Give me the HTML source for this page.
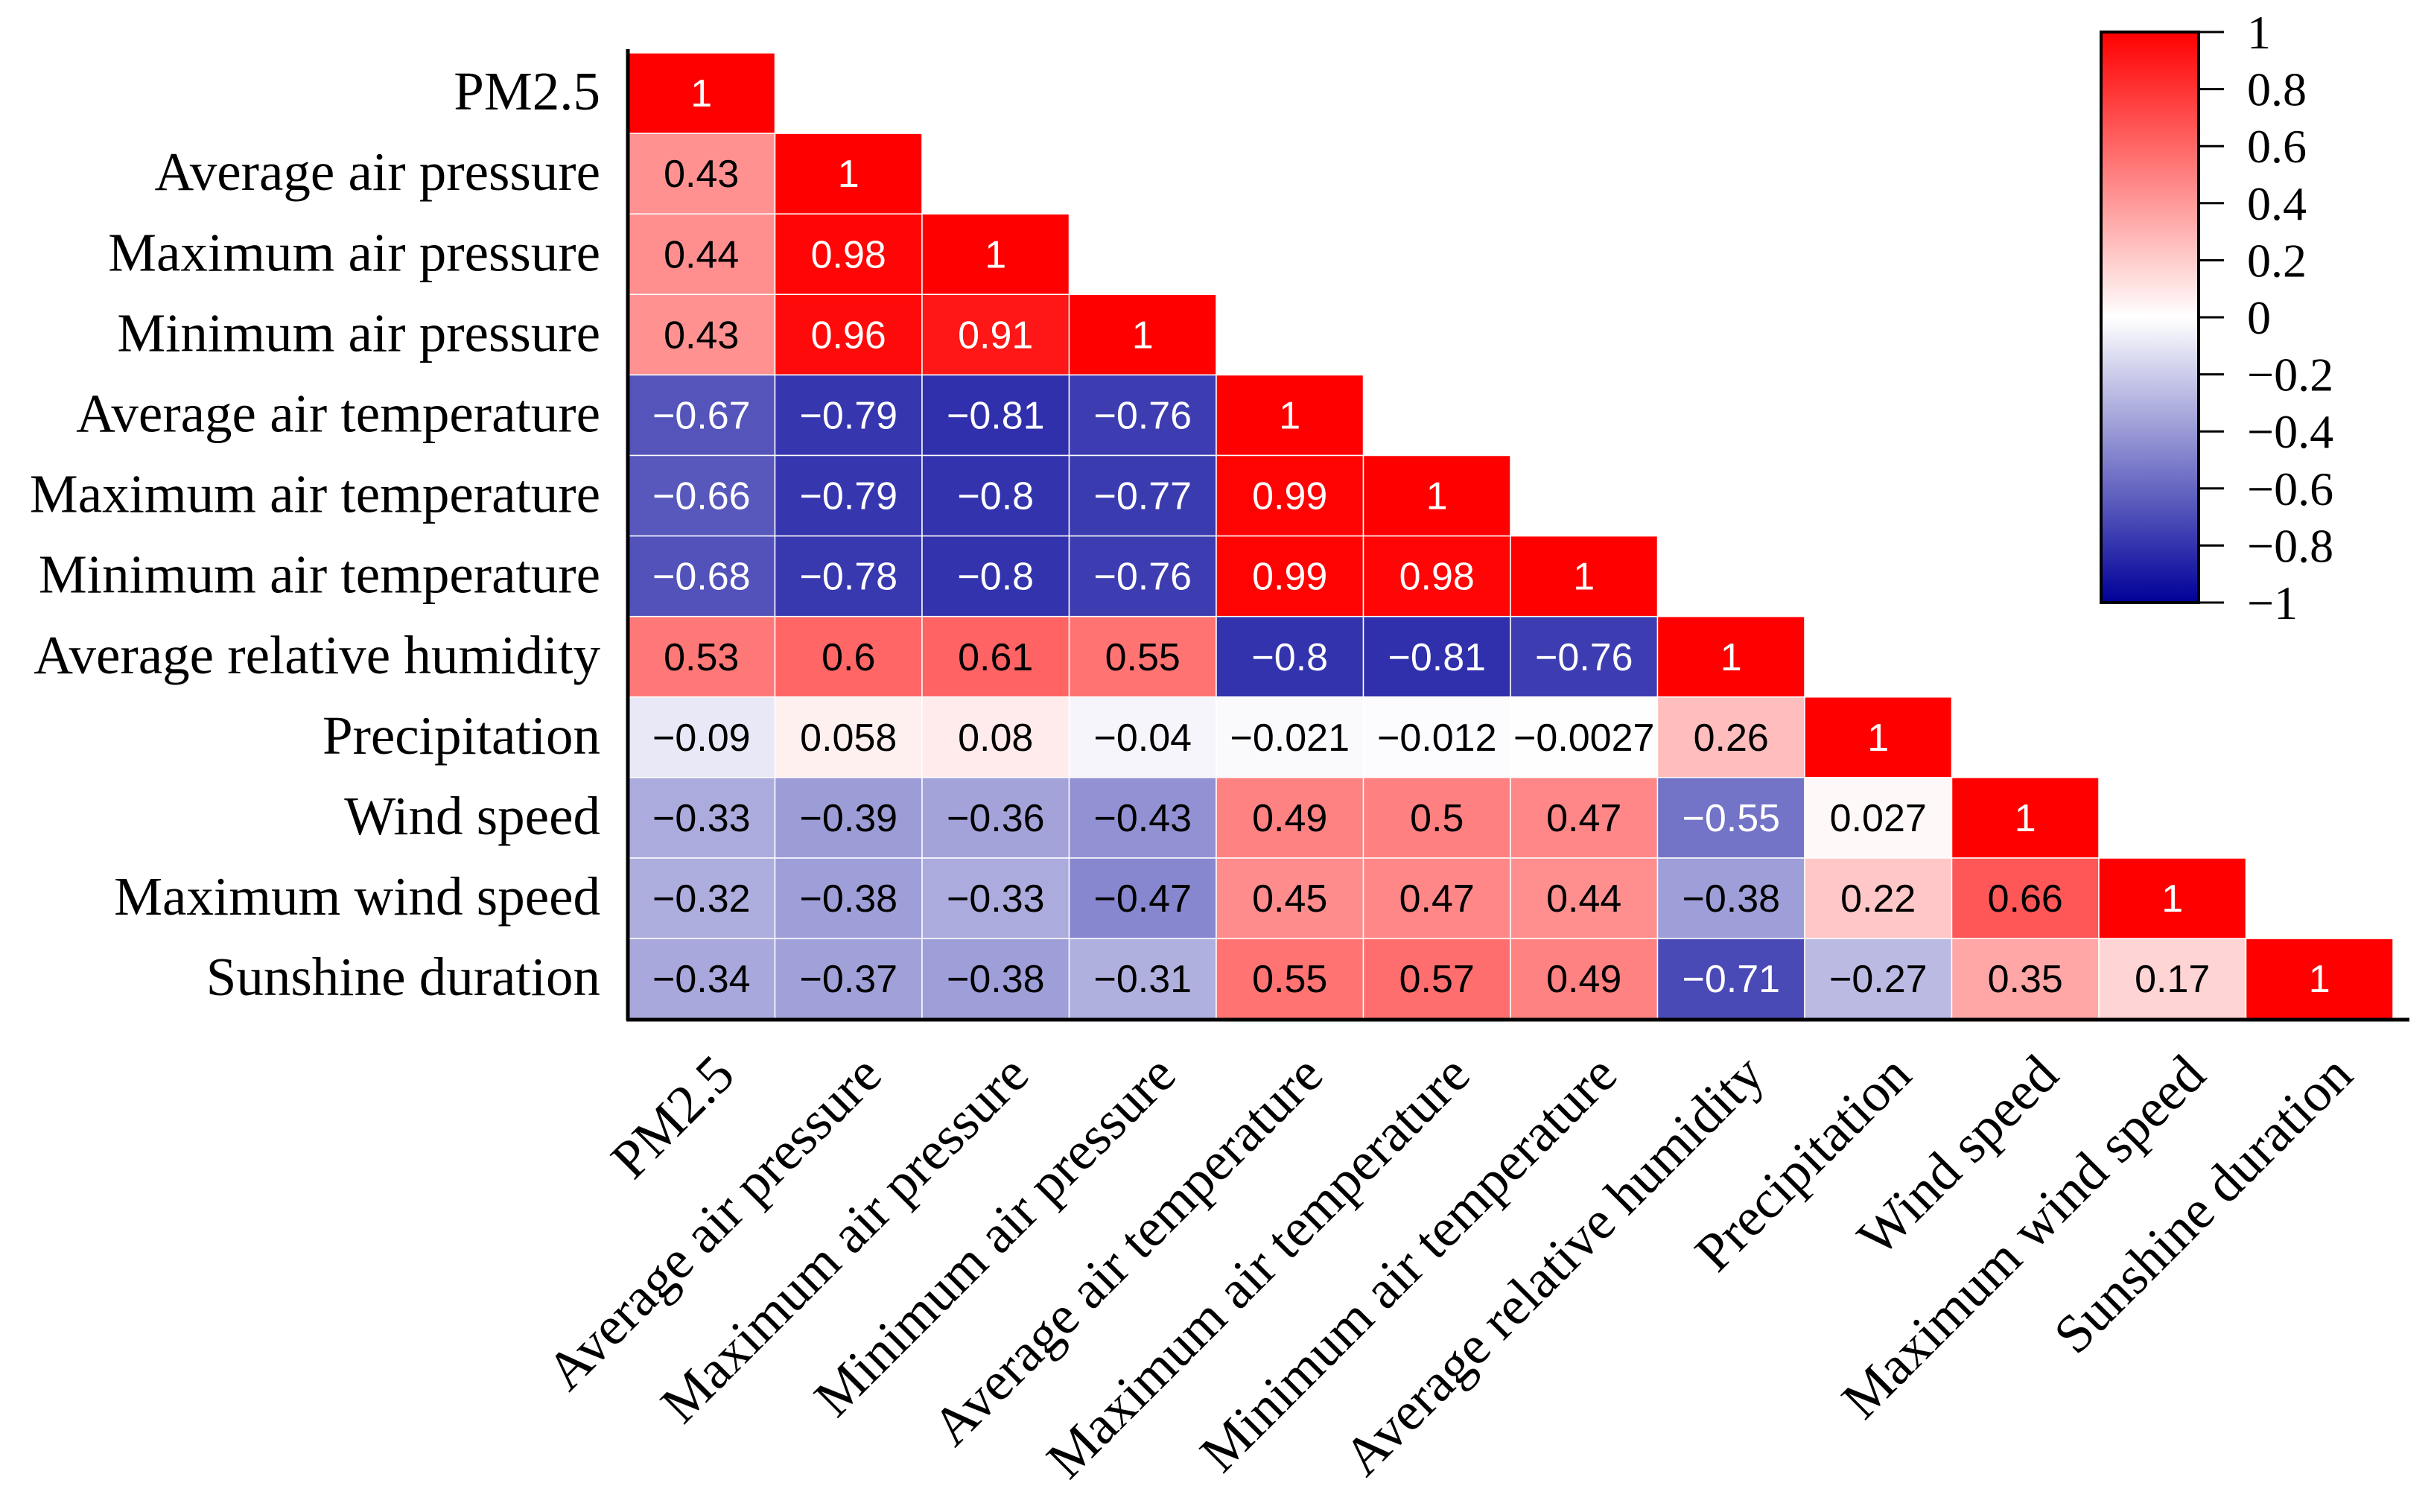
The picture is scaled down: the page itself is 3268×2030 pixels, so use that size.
<!DOCTYPE html>
<html><head><meta charset="utf-8"><style>
html,body{margin:0;padding:0;background:#fff;}
svg{display:block;}
</style></head><body>
<svg id="chart" width="3268" height="2030" viewBox="0 0 3268 2030" xmlns="http://www.w3.org/2000/svg">
<defs>
<linearGradient id="cbgrad" x1="0" y1="0" x2="0" y2="1">
<stop offset="0" stop-color="#ff0000"/>
<stop offset="0.5" stop-color="#ffffff"/>
<stop offset="1" stop-color="#000099"/>
</linearGradient>
</defs>
<g id="cells"></g>
<g id="ylabels"></g>
<g id="xlabels"></g>
<line x1="843" y1="66" x2="843" y2="1370" stroke="#000" stroke-width="5"/>
<line x1="841" y1="1369" x2="3235" y2="1369" stroke="#000" stroke-width="5"/>
<g id="colorbar"></g>
</svg>
<script>
const labels = ["PM2.5","Average air pressure","Maximum air pressure","Minimum air pressure","Average air temperature","Maximum air temperature","Minimum air temperature","Average relative humidity","Precipitation","Wind speed","Maximum wind speed","Sunshine duration"];
const row0 = [1];
const row1 = [0.43,1];
const row2 = [0.44,0.98,1];
const row3 = [0.43,0.96,0.91,1];
const row4 = [-0.67,-0.79,-0.81,-0.76,1];
const row5 = [-0.66,-0.79,-0.8,-0.77,0.99,1];
const row6 = [-0.68,-0.78,-0.8,-0.76,0.99,0.98,1];
const row7 = [0.53,0.6,0.61,0.55,-0.8,-0.81,-0.76,1];
const row8 = [-0.09,0.058,0.08,-0.04,-0.021,-0.012,-0.0027,0.26,1];
const row9 = [-0.33,-0.39,-0.36,-0.43,0.49,0.5,0.47,-0.55,0.027,1];
const row10 = [-0.32,-0.38,-0.33,-0.47,0.45,0.47,0.44,-0.38,0.22,0.66,1];
const row11 = [-0.34,-0.37,-0.38,-0.31,0.55,0.57,0.49,-0.71,-0.27,0.35,0.17,1];
const matrix = [row0,row1,row2,row3,row4,row5,row6,row7,row8,row9,row10,row11];
const cbTicks = [1,0.8,0.6,0.4,0.2,0,-0.2,-0.4,-0.6,-0.8,-1];

const NS="http://www.w3.org/2000/svg";
const X0=843, CW=197.5, Y0=71, RH=108.1;
const xPos = j => X0 + j*CW;
const yPos = i => Y0 + i*RH;
const CB_TOP=43, CB_BOT=809, CB_X=2821, CB_W=131;
const cbY = v => CB_TOP + (1-v)/2*(CB_BOT-CB_TOP);
function color(v){
  if(v>=0){const g=Math.round(255*(1-v));return `rgb(255,${g},${g})`;}
  const a=-v;const rg=Math.round(255*(1-a));const b=Math.round(255-a*102);return `rgb(${rg},${rg},${b})`;
}
function fmt(v){return (v<0?"\u2212":"")+String(Math.abs(v));}
function mk(tag,attrs,parent){const e=document.createElementNS(NS,tag);for(const k in attrs)e.setAttribute(k,attrs[k]);parent.appendChild(e);return e;}
const cells=document.getElementById('cells');
matrix.forEach((row,i)=>{
  row.forEach((v,j)=>{
    const r=mk('rect',{x:xPos(j),y:yPos(i),width:CW,height:RH,fill:color(v),stroke:'#ffffff','stroke-width':1.5},cells);
    
    
    const white = v>0.9 || v<-0.5;
    const t=mk('text',{x:xPos(j)+CW/2,y:yPos(i)+RH/2+18,'text-anchor':'middle','font-family':'Liberation Sans Narrow, Liberation Sans, sans-serif','font-size':52,fill:white?'#fff':'#000'},cells);
    t.textContent=fmt(v);
    
    
  });
});
const yl=document.getElementById('ylabels');
labels.forEach((l,i)=>{
  const t=mk('text',{x:806,y:yPos(i)+RH/2+22,'text-anchor':'end','font-family':'Liberation Serif, serif','font-size':73,fill:'#000'},yl);
  t.textContent=l;
  
  
});
const xl=document.getElementById('xlabels');
labels.forEach((l,j)=>{
  const ax=xPos(j)+CW/2+48, ay=1447;
  const t=mk('text',{x:ax,y:ay,'text-anchor':'end','font-family':'Liberation Serif, serif','font-size':73,fill:'#000',transform:`rotate(-45 ${ax} ${ay})`},xl);
  t.textContent=l;
  
  
});
const cb=document.getElementById('colorbar');
const bar=mk('rect',{x:CB_X,y:CB_TOP,width:CB_W,height:CB_BOT-CB_TOP,fill:'url(#cbgrad)',stroke:'#000','stroke-width':4},cb);


cbTicks.forEach(v=>{
  const y=cbY(v);
  const ln=mk('line',{x1:CB_X+CB_W,y1:y,x2:2986,y2:y,stroke:'#000','stroke-width':3},cb);
  
  
  const t=mk('text',{x:3017,y:y+22,'font-family':'Liberation Serif, serif','font-size':64,fill:'#000'},cb);
  t.textContent=fmt(v);
  
  
});
</script>
</body></html>
